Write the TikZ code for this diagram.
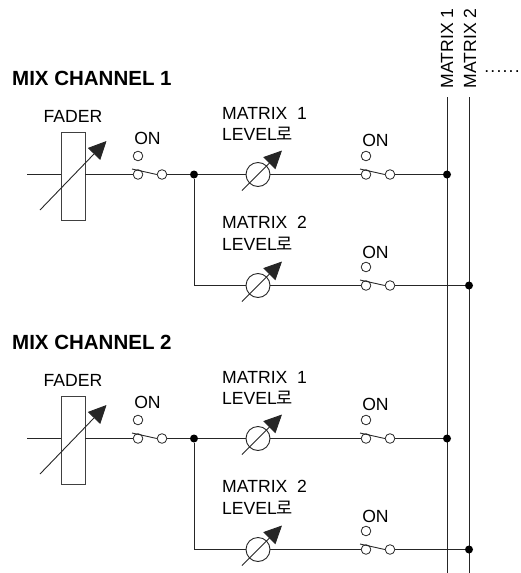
\documentclass[tikz,border=0pt]{standalone}
\usepackage{fontspec}
\setmainfont{Liberation Sans}
\newfontfamily\cjk{Noto Sans CJK KR}
\usetikzlibrary{arrows.meta}
\tikzset{
  wire/.style={line width=0.9pt,color=black!85},
  contact/.style={circle,draw=black!85,line width=0.8pt,minimum size=9.6pt,inner sep=0pt},
  junction/.style={circle,fill=black,minimum size=8pt,inner sep=0pt},
  faderbox/.style={rectangle,draw=black!75,line width=0.9pt,minimum width=24pt,minimum height=88pt,inner sep=0pt},
  levelknob/.style={circle,draw=black!85,line width=0.9pt,minimum size=24pt,inner sep=0pt},
  bigtip/.style={wire,-{Triangle[length=18pt,width=17pt]}},
  lab/.style={font=\fontsize{17.6}{21.6}\selectfont,inner sep=0pt,align=left},
  title/.style={font=\fontsize{20.5}{24}\selectfont\bfseries,inner sep=0pt,anchor=west}
}
\newcommand{\switchunit}[4]{%
  % prefix, x of left contact, y of contacts, label offset above
  \node[contact] (#1t) at (#2,#3-18.5) {};
  \node[contact] (#1l) at (#2,#3) {};
  \node[contact] (#1r) at (#2+24,#3) {};
  \node[lab,anchor=center] (#1on) at (#2+9.5,#3-#4) {ON};
  \coordinate (#1b) at (#2-6,#3-5.5);
  \draw[wire] (#1b) -- (#1r.west);
}
\newcommand{\levelunit}[4]{%
  % prefix, y, label number, label top above y
  \node[levelknob] (#1k) at (258,#2) {};
  \coordinate (#1s) at (242,#2+16);
  \coordinate (#1e) at (282,#2-24);
  \draw[bigtip] (#1s) -- (#1e);
  \node[lab,anchor=north west] (#1t) at (222,#2-#4) {MATRIX\ \ #3\\LEVEL{\cjk 로}};
}
\newcommand{\channel}[3]{%
  % prefix, y offset, title
  \begin{scope}[yshift=-#2pt]
    \node[title] (#1title) at (12,78) {#3};
    \node[lab,anchor=center] (#1fl) at (73,116.5) {FADER};
    \node[faderbox] (#1f) at (73,176) {};
    \coordinate (#1in) at (27,174.5);
    \draw[wire] (#1in) -- (#1in -| #1f.west);
    \coordinate (#1fs) at (40,210);
    \coordinate (#1fe) at (106.5,141);
    \switchunit{#1a}{138}{174.5}{36.5}
    \draw[wire] (#1f.east |- #1in) -- (#1al.west);
    \node[junction] (#1j) at (194,174.5) {};
    \draw[wire] (#1ar.east) -- (#1j);
    \levelunit{#1m}{174.5}{1}{67.5}
    \draw[wire] (#1j) -- (#1mk.west);
    \switchunit{#1c}{366}{174.5}{34.5}
    \draw[wire] (#1mk.east) -- (#1cl.west);
    \node[junction] (#1p) at (447,174.5) {};
    \draw[wire] (#1cr.east) -- (#1p);
    \levelunit{#1n}{285.5}{2}{69.5}
    \coordinate (#1corner) at (194,285.5);
    \draw[wire] (#1j) -- (#1corner) -- (#1nk.west);
    \switchunit{#1d}{366}{285.5}{33.5}
    \draw[wire] (#1nk.east) -- (#1dl.west);
    \node[junction] (#1q) at (469,285.5) {};
    \draw[wire] (#1dr.east) -- (#1q);
    \draw[bigtip] (#1fs) -- (#1fe);
  \end{scope}
}
\begin{document}
\begin{tikzpicture}[x=1pt,y=-1pt]
  \useasboundingbox (0,0) rectangle (520,573);
  \node[lab,rotate=90,anchor=center] (m1) at (447,48.5) {MATRIX 1};
  \node[lab,rotate=90,anchor=center] (m2) at (470,48.5) {MATRIX 2};
  \node[lab,anchor=center] (more) at (502,71.5) {.\kern1.2pt.\kern1.2pt.\kern1.2pt.\kern1.2pt.\kern1.2pt.};
  \coordinate (b1t) at (447,97);
  \coordinate (b1b) at (447,573);
  \coordinate (b2t) at (469.5,97);
  \coordinate (b2b) at (469.5,573);
  \draw[wire] (b1t) -- (b1b);
  \draw[wire] (b2t) -- (b2b);
  \channel{u}{0}{MIX CHANNEL 1}
  \channel{v}{264}{MIX CHANNEL 2}
\end{tikzpicture}
\end{document}
